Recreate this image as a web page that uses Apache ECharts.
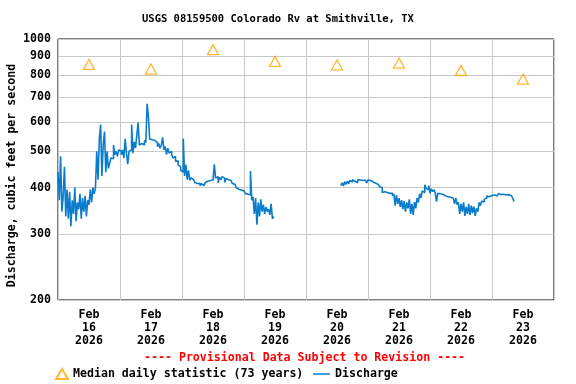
<!DOCTYPE html>
<html>
<head>
<meta charset="utf-8">
<script src="https://cdn.jsdelivr.net/npm/echarts@6/dist/echarts.min.js"></script>
<style>html,body{margin:0;padding:0;background:#fff}#c{width:576px;height:384px}</style>
</head>
<body>
<div id="c"></div>
<script>
// Hours since Feb 16 2026 00:00, half-hour steps
var stepHours = 0.5;
var seg1StartHour = 0;
var seg1Values = [
440,370,485,345,380,455,335,395,
330,390,315,370,340,400,325,365,
350,385,330,375,345,380,335,370,
360,395,365,400,385,400,500,420,
540,590,430,520,565,440,500,450,
465,480,478,520,490,500,485,505,
500,490,505,480,540,495,462,500,
505,590,495,530,510,552,597,520,
525,530,520,535,528,671,618,540,
537,538,535,530,528,515,525,510,
520,545,505,515,490,510,495,500,
490,480,485,470,472,460,455,445,
440,541,430,460,420,445,418,425,
420,415,412,410,408,411,404,410,
405,410,413,416,415,418,420,419,
422,462,424,428,412,426,420,428,
424,413,423,420,420,418,415,410,
408,404,400,396,398,394,393,392,
390,386,384,380,382,443,370,378,
340,375,318,365,335,372,345,360,
340,355,345,350,338,362,330,335
];
var seg2StartHour = 109.5;
var seg2Values = [
405,
412,404,415,408,416,410,418,414,
420,416,421,412,420,419,421,418,
420,419,420,412,419,418,415,414,
410,411,407,408,404,402,400,388,
390,387,388,386,386,385,386,380,
385,358,382,362,375,355,370,350,
368,345,365,352,372,340,362,338,
366,352,375,365,385,375,392,388,
407,398,395,405,386,397,390,395,
388,367,386,385,383,384,381,380,
380,378,379,377,378,375,376,362,
375,360,365,340,362,345,365,336,
355,340,362,338,358,342,356,336,
352,345,365,358,368,366,372,375,
380,378,382,381,383,382,384,380,
383,386,383,382,384,383,382,378,
383,382,381,378,375,367
];
var medianHours = [12, 36, 60, 84, 108, 132, 156, 180];
var medianValues = [855, 831, 936, 871, 853, 862, 824, 781];
var dayLabels = ['Feb\n16\n2026','Feb\n17\n2026','Feb\n18\n2026','Feb\n19\n2026','Feb\n20\n2026','Feb\n21\n2026','Feb\n22\n2026','Feb\n23\n2026'];
var yTicks = [200, 300, 400, 500, 600, 700, 800, 900, 1000];

var discharge1 = seg1Values.map(function (v, i) { return [seg1StartHour + i * stepHours, v]; });
var discharge2 = seg2Values.map(function (v, i) { return [seg2StartHour + i * stepHours, v]; });
var medians = medianHours.map(function (h, i) { return [h, medianValues[i]]; });

var FONT = 'DejaVu Sans Mono';
var BLUE = '#0a7ccc';
function dischargeSeries(data) {
  return {name: 'Discharge', type: 'line', xAxisIndex: 0, data: data, showSymbol: false, symbol: 'none',
    step: 'end', lineStyle: {color: BLUE, width: 1.6}, itemStyle: {color: BLUE}, z: 2};
}
var chart = echarts.init(document.getElementById('c'), null, {renderer: 'canvas'});
chart.setOption({
  animation: false,
  backgroundColor: '#fff',
  title: [
    {text: 'USGS 08159500 Colorado Rv at Smithville, TX', left: 142, top: 14,
     padding: 0,
     textStyle: {fontFamily: FONT, fontSize: 10.5, fontWeight: 'bold', color: '#000'}},
    {text: '---- Provisional Data Subject to Revision ----', left: 144, top: 352,
     padding: 0,
     textStyle: {fontFamily: FONT, fontSize: 11.6, fontWeight: 'bold', color: '#ff0000'}}
  ],
  legend: [
    {data: ['Median daily statistic (73 years)'], left: 55, top: 368, padding: 0,
     itemWidth: 12, itemHeight: 10,
     textStyle: {fontFamily: FONT, fontSize: 11.6, fontWeight: 'bold', color: '#000'}},
    {data: [{name: 'Discharge', icon: 'rect'}], left: 313, top: 368, padding: 0,
     itemWidth: 17, itemHeight: 1.5,
     textStyle: {fontFamily: FONT, fontSize: 11.6, fontWeight: 'bold', color: '#000'}}
  ],
  grid: {left: 58, right: 22, top: 39, bottom: 84, show: true, borderColor: '#000', borderWidth: 1,
         backgroundColor: '#fff', containLabel: false, outerBoundsMode: 'none'},
  xAxis: [
    {type: 'value', min: 0, max: 192, interval: 24,
     axisLine: {show: false}, axisTick: {show: false}, axisLabel: {show: false},
     splitLine: {show: true, lineStyle: {color: '#c8c8c8', width: 1}}},
    {type: 'value', min: 0, max: 192, interval: 12, position: 'bottom',
     axisLine: {show: false}, axisTick: {show: false}, splitLine: {show: false},
     axisLabel: {show: true, margin: 8, lineHeight: 13, showMinLabel: true, showMaxLabel: true,
       fontFamily: FONT, fontSize: 11.6, fontWeight: 'bold', color: '#000',
       formatter: function (v) { return (v % 24 === 12) ? dayLabels[(v - 12) / 24] : ''; }}}
  ],
  yAxis: {
    type: 'log', logBase: 10, min: 200, max: 1000,
    name: 'Discharge, cubic feet per second', nameLocation: 'middle', nameGap: 40, nameMoveOverlap: false,
    nameTextStyle: {fontFamily: FONT, fontSize: 11.6, fontWeight: 'bold', color: '#000', padding: [0, 12, 0, 0]},
    axisLine: {show: false},
    axisTick: {show: false, customValues: yTicks},
    axisLabel: {customValues: yTicks, margin: 7, fontFamily: FONT, fontSize: 11.6, fontWeight: 'bold', color: '#000',
      showMinLabel: true, showMaxLabel: true,
      formatter: function (v) { return String(Math.round(v)); }},
    splitLine: {show: true, lineStyle: {color: '#c8c8c8', width: 1}}
  },
  series: [
    {name: 'Median daily statistic (73 years)', type: 'scatter', xAxisIndex: 0, data: medians,
     symbol: 'triangle', symbolSize: [11, 10],
     itemStyle: {color: 'rgba(255,255,255,0)', borderColor: '#ffa500', borderWidth: 1.3}, z: 3},
    dischargeSeries(discharge1),
    dischargeSeries(discharge2)
  ]
});
</script>
</body>
</html>
